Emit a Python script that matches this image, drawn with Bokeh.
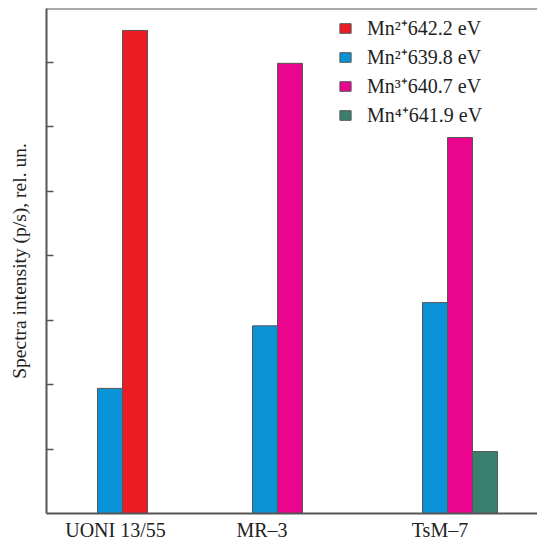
from bokeh.plotting import figure
from bokeh.models import (ColumnDataSource, FixedTicker, Span, Range1d, Legend,
                          LegendItem, CustomLabelingPolicy)
from bokeh.embed import file_html
from bokeh.resources import INLINE

# ---- data ----
categories = ["UONI 13/55", "MR\u20133", "TsM\u20137"]
mn2_642 = [7.49, None, None]
mn2_639 = [1.94, 2.91, 3.27]
mn3_640 = [None, 6.98, 5.83]
mn4_641 = [None, None, 0.96]
series_labels = ["Mn\u00b2\u207a642.2 eV", "Mn\u00b2\u207a639.8 eV",
                 "Mn\u00b3\u207a640.7 eV", "Mn\u2074\u207a641.9 eV"]
y_ticks = [1, 2, 3, 4, 5, 6, 7]

# ---- layout (positions / styles) ----
group_x = [2.54, 8.74, 15.54]          # centre of the first bar in each group
label_shift = [0.22, -0.12, 0.2]
colors = ["#EC1C24", "#0A93D6", "#EA058E", "#3B7F6F"]
series = [mn2_642, mn2_639, mn3_640, mn4_641]
slot = [1, 0, 1, 2]
SERIF = "Liberation Serif"
Y_END = 7.83

p = figure(frame_width=491, frame_height=505, output_backend="svg", toolbar_location=None,
           x_range=Range1d(0, 19.64), y_range=Range1d(0, Y_END),
           min_border_left=46, min_border_right=0, min_border_top=8,
           min_border_bottom=0)
p.outline_line_color = None
p.grid.visible = False
p.background_fill_color = "white"
p.border_fill_color = "white"

items = []
for vals, col, s, lab in zip(series, colors, slot, series_labels):
    xs, ys = [], []
    for gx, v in zip(group_x, vals):
        if v is not None:
            xs.append(gx + s)
            ys.append(v)
    src = ColumnDataSource(dict(x=xs, top=ys))
    r = p.vbar(x="x", top="top", bottom=0, width=1.0, source=src,
               fill_color=col, line_color="#555555", line_width=1)
    items.append(LegendItem(label=lab, renderers=[r]))

legend = Legend(items=items, location=(292, 384), padding=0, spacing=0,
                glyph_width=14, glyph_height=12, label_standoff=15,
                label_height=29, label_text_font=SERIF,
                label_text_font_size="20px", label_text_color="#222222",
                label_text_baseline="middle",
                border_line_color=None, background_fill_alpha=0.0)
p.add_layout(legend)

# top border
p.add_layout(Span(location=Y_END, dimension="width", line_color="#555555", line_width=2))

# x axis
label_pos = [g + d for g, d in zip(group_x, label_shift)]
p.xaxis.ticker = FixedTicker(ticks=label_pos)
p.xaxis.major_label_overrides = {lp: c for lp, c in zip(label_pos, categories)}
p.xaxis.major_tick_line_color = None
p.xaxis.major_tick_in = 0
p.xaxis.major_tick_out = 0
p.xaxis.minor_tick_line_color = None
p.xaxis.axis_line_color = "#555555"
p.xaxis.axis_line_width = 2
p.xaxis.major_label_text_font = SERIF
p.xaxis.major_label_text_font_size = "20px"
p.xaxis.major_label_text_color = "#222222"
p.xaxis.major_label_standoff = 5

# y axis
p.yaxis.ticker = FixedTicker(ticks=y_ticks)
p.yaxis.major_tick_in = 7
p.yaxis.major_tick_out = 0
p.yaxis.major_tick_line_color = "#555555"
p.yaxis.major_tick_line_width = 1.5
p.yaxis.minor_tick_line_color = None
p.yaxis.axis_line_color = "#555555"
p.yaxis.axis_line_width = 2
p.yaxis.major_label_policy = CustomLabelingPolicy(code="return new Set()")
p.yaxis.axis_label = "Spectra intensity (p/s), rel. un."
p.yaxis.axis_label_text_font = SERIF
p.yaxis.axis_label_text_font_size = "19.5px"
p.yaxis.axis_label_text_font_style = "normal"
p.yaxis.axis_label_text_color = "#222222"
p.yaxis.axis_label_standoff = 2

open("out.html", "w").write(file_html(p, INLINE))
